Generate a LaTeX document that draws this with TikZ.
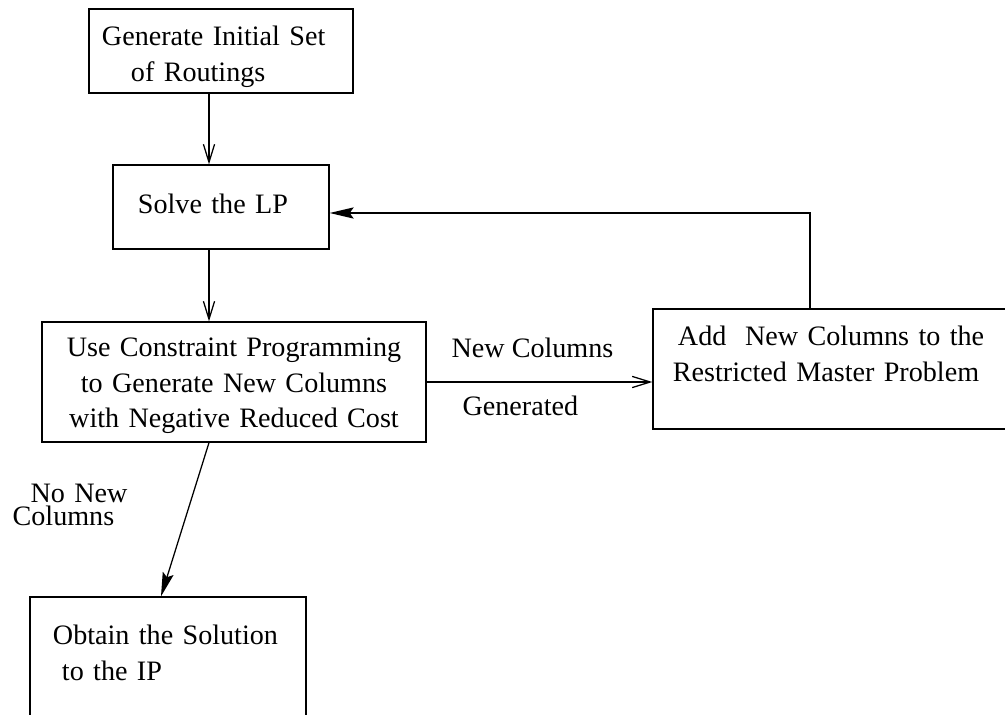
\documentclass[tikz,border=0pt]{standalone}
\usepackage{fontspec}
\setmainfont{Liberation Serif}
\usepackage{tikz}
\usetikzlibrary{positioning,arrows.meta,calc}

\begin{document}
\begin{tikzpicture}[x=0.025cm, y=-0.025cm, line width=0.9pt,
   >={Straight Barb[length=0.45cm,width=0.28cm]},
   box/.style={draw, inner sep=0pt, align=left,
               font=\fontsize{20}{24.9}\selectfont},
   lbl/.style={inner sep=0pt, font=\fontsize{20}{24.9}\selectfont},
   shut/.style={-{Stealth[length=0.6cm,width=0.28cm,inset=0.1cm]}}]
  \useasboundingbox (0,0) rectangle (1005,715);
  \node[box, minimum width=6.6cm, minimum height=2.1cm, text width=5.95cm,
        text height=0.25cm, text depth=0.5cm] (init) at (221,51)
        {Generate Initial Set\\\hspace*{0.725cm}of Routings};
  \node[box, minimum width=5.4cm, minimum height=2.1cm, text width=4.15cm,
        text height=0.8cm, text depth=0.5cm] (lp) at (221,207) {Solve the LP};
  \node[box, minimum width=9.6cm, minimum height=3cm, text width=9.6cm,
        align=center, text height=0.25cm, text depth=1.5cm] (cp) at (234,382)
        {Use Constraint Programming\\to Generate New Columns\\with Negative Reduced Cost};
  \node[box, minimum width=9.8cm, minimum height=3cm, text width=8.8cm,
        text height=0.25cm, text depth=1.4cm] (add) at (849,369)
        {\hspace*{0.125cm}Add\ \ New Columns to the\\Restricted Master Problem};
  \node[box, minimum width=6.9cm, minimum height=3.675cm, text width=5.75cm,
        text height=0.25cm, text depth=1.525cm] (sol) at (168,670.5)
        {Obtain the Solution\\\hspace*{0.225cm}to the IP};
  % labels on the connectors
  \node[lbl, anchor=base west] (yes) at (451,357) {New Columns};
  \node[lbl, anchor=base west] (gen) at (462,415) {Generated};
  \node[lbl, anchor=base west, text width=3cm, align=left,
        font=\fontsize{20}{16.4}\selectfont] (none) at (12,502)
        {\hspace*{0.45cm}No New\\Columns};
  \coordinate (spine) at (209,0);
  \coordinate (drop) at (161,0);
  \coordinate (back) at (810,213);
  \draw[->] (init.south -| spine) -- (lp.north -| spine);
  \draw[->] (lp.south -| spine) -- (cp.north -| spine);
  \draw[->] (cp.east) -- (cp.east -| add.west);
  \draw[shut] (cp.south -| spine) -- (sol.north -| drop);
  \draw[shut] (add.north -| back) |- (lp.east |- back);
\end{tikzpicture}
\end{document}
